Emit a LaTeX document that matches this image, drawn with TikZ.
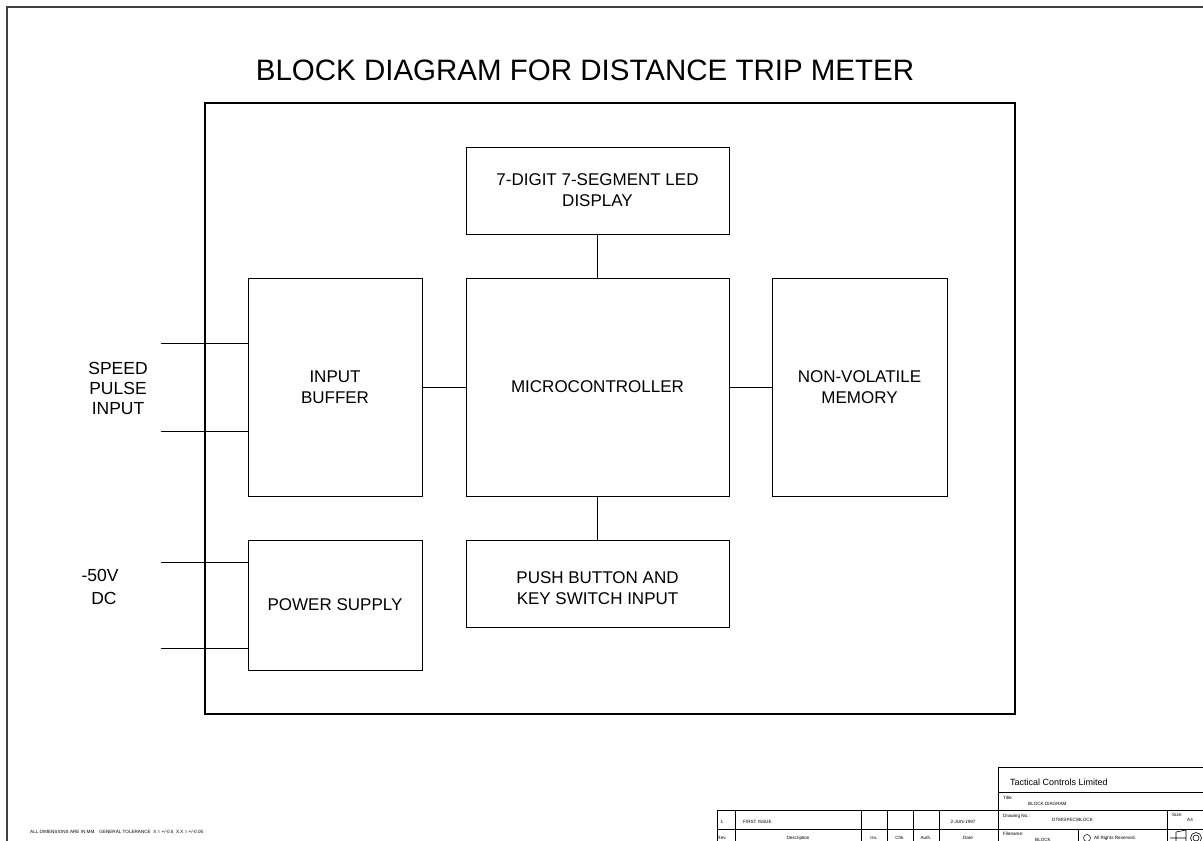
\documentclass[tikz,border=0pt]{standalone}
\usepackage{fontspec}
\setmainfont{Liberation Sans}
\begin{document}
\begin{tikzpicture}[x=1pt, y=-1pt,
  blk/.style={draw, line width=1pt, align=center, inner sep=0pt,
    font=\fontsize{17}{21}\selectfont},
  lbl/.style={align=center, inner sep=0pt, font=\fontsize{17.5}{20}\selectfont},
  tiny/.style={inner sep=0pt, font=\fontsize{4.6}{5}\selectfont}]
  \useasboundingbox (0,0) rectangle (1203,841);
  % sheet border
  \draw[line width=1.6pt, black!75] (7,845) -- (7,7) -- (1210,7);
  \node[font=\fontsize{29.5}{31}\selectfont, inner sep=0pt] (title) at (585,70) {BLOCK DIAGRAM FOR DISTANCE TRIP METER};
  % unit outline
  \draw[line width=1.2pt] (205,103) rectangle (1015,714);
  % blocks
  \node[blk, minimum width=263pt, minimum height=87pt] (display) at (597.5,190.5) {7-DIGIT 7-SEGMENT LED\\DISPLAY};
  \node[blk, minimum width=263pt, minimum height=218pt] (micro) at (597.5,387) {MICROCONTROLLER};
  \node[blk, minimum width=174pt, minimum height=218pt] (buffer) at (335,387) {INPUT\\BUFFER};
  \node[blk, minimum width=175pt, minimum height=218pt] (memory) at (859.5,387) {NON-VOLATILE\\MEMORY};
  \node[blk, minimum width=174pt, minimum height=130pt] (power) at (335,605) {POWER SUPPLY};
  \node[blk, minimum width=263pt, minimum height=87pt] (keys) at (597.5,583.5) {};
  \node[blk, draw=none] (keystext) at ([yshift=-5pt]keys.center) {PUSH BUTTON AND\\KEY SWITCH INPUT};
  \draw (display) -- (micro);
  \draw (buffer) -- (micro);
  \draw (micro) -- (memory);
  \draw (micro) -- (keys);
  % external connections
  \coordinate (sp1) at (161,343);
  \coordinate (sp2) at (161,431);
  \coordinate (pw1) at (161,562);
  \coordinate (pw2) at (161,648);
  \draw (sp1) -- (sp1 -| buffer.west);
  \draw (sp2) -- (sp2 -| buffer.west);
  \draw (pw1) -- (pw1 -| power.west);
  \draw (pw2) -- (pw2 -| power.west);
  \node[lbl] (speed) at (118,388) {SPEED\\PULSE\\INPUT};
  \node[lbl, font=\fontsize{17.5}{23}\selectfont] (supply) at (100,587) {-50V\\\hspace*{8pt}DC};
  % revision table
  \draw[line width=0.6pt] (717,810) -- (998,810) (717,829) -- (998,829);
  \foreach \x in {717,735,861,887,913,939} \draw[line width=0.6pt] (\x,810) -- (\x,845);
  \node[tiny] (rev) at (722,822) {1};
  \node[tiny, anchor=west] (desc) at (743,822) {FIRST ISSUE};
  \node[tiny] (date) at (963,822) {2-JUN-1997};
  \node[tiny] (hrev) at (722,838) {Rev.};
  \node[tiny] (hdesc) at (798,838) {Description};
  \node[tiny] (hiss) at (874,838) {Iss.};
  \node[tiny] (hchk) at (900,838) {Chk.};
  \node[tiny] (hauth) at (926,838) {Auth.};
  \node[tiny] (hdate) at (968,838) {Date};
  % title block
  \draw[line width=0.6pt] (998,845) -- (998,767) -- (1210,767);
  \draw[line width=0.6pt] (998,792) -- (1210,792) (998,810) -- (1210,810) (998,829) -- (1210,829);
  \draw[line width=0.6pt] (1167,810) -- (1167,845) (1078,829) -- (1078,845);
  \node[anchor=west, inner sep=0pt, font=\fontsize{9}{10}\selectfont] (company) at (1010,782) {Tactical Controls Limited};
  \node[tiny, anchor=west] (ttl) at (1003,798) {Title:};
  \node[tiny, anchor=west] (ttlv) at (1028,804) {BLOCK DIAGRAM};
  \node[tiny, anchor=west] (dwg) at (1003,816) {Drawing No.:};
  \node[tiny, anchor=west] (dwgv) at (1052,820) {DTM\textbackslash SPEC\textbackslash BLOCK};
  \node[tiny, anchor=west] (size) at (1172,815) {Size:};
  \node[tiny, anchor=west] (sizev) at (1187,820) {A4};
  \node[tiny, anchor=west] (fname) at (1003,834) {Filename:};
  \node[tiny, anchor=west] (fnamev) at (1035,840) {BLOCK};
  \draw[line width=0.5pt] (1087,838) circle (3.5pt);
  \node[tiny, anchor=west] (rights) at (1094,838) {All Rights Reserved.};
  % projection symbol
  \draw[line width=0.6pt] (1170,838) -- (1186,838) (1176,832) -- (1186,830) -- (1186,846) -- (1176,844) -- cycle;
  \draw[line width=0.6pt] (1196,838) circle (5.5pt) (1196,838) circle (3pt);
  \node[tiny, anchor=west] (tol) at (30,832) {ALL DIMENSIONS ARE IN MM.~~~GENERAL TOLERANCE~~X = +/-0.5~~X.X = +/-0.05};
\end{tikzpicture}
\end{document}
